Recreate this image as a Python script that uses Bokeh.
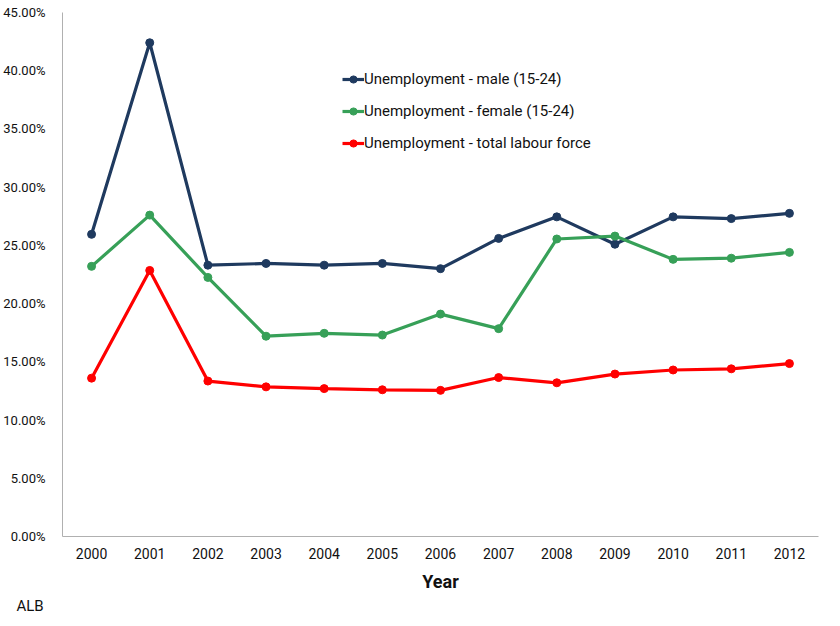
from bokeh.plotting import figure
from bokeh.models import Range1d, FixedTicker, PrintfTickFormatter, Legend, LegendItem, Title
from bokeh.embed import file_html
from bokeh.resources import INLINE

years = [2000, 2001, 2002, 2003, 2004, 2005, 2006, 2007, 2008, 2009, 2010, 2011, 2012]
male = [25.95, 42.4, 23.3, 23.45, 23.3, 23.45, 23.0, 25.6, 27.45, 25.1, 27.45, 27.3, 27.75]
female = [23.2, 27.6, 22.25, 17.2, 17.45, 17.3, 19.1, 17.85, 25.55, 25.8, 23.8, 23.9, 24.4]
total = [13.6, 22.85, 13.35, 12.85, 12.7, 12.6, 12.55, 13.65, 13.2, 13.95, 14.3, 14.4, 14.85]

names = ["Unemployment - male (15-24)", "Unemployment - female (15-24)",
         "Unemployment - total labour force"]
colors = ["#1f3a5f", "#37a058", "#ff0000"]

FONT = "Roboto"

p = figure(width=830, height=620, output_backend="svg", toolbar_location=None,
           x_range=Range1d(1999.5, 2012.5), y_range=Range1d(0, 45),
           min_border_left=62, min_border_right=12, min_border_top=12, min_border_bottom=84)
p.background_fill_color = "white"
p.border_fill_color = "white"
p.outline_line_color = None
p.xgrid.grid_line_color = None
p.ygrid.grid_line_color = None

items = []
for series, name, col in zip([male, female, total], names, colors):
    r1 = p.line(years, series, line_color=col, line_width=3.2)
    r2 = p.scatter(years, series, size=8, fill_color=col, line_color=col)
    items.append(LegendItem(label=name, renderers=[r1, r2]))

legend = Legend(items=items, location=(280, 384), padding=0, margin=0,
                spacing=14, glyph_width=22, glyph_height=18, label_standoff=0,
                label_text_font=FONT, label_text_font_size="15px",
                label_text_color="#111111", border_line_color=None,
                background_fill_alpha=0)
p.add_layout(legend, "center")

p.xaxis.ticker = FixedTicker(ticks=years)
p.yaxis.ticker = FixedTicker(ticks=[0, 5, 10, 15, 20, 25, 30, 35, 40, 45])
p.yaxis.formatter = PrintfTickFormatter(format="%.2f%%")
for ax in (p.xaxis, p.yaxis):
    ax.axis_line_color = "#b0b0b0"
    ax.axis_line_width = 1
    ax.major_tick_line_color = None
    ax.minor_tick_line_color = None
    ax.major_label_text_font = FONT
    ax.major_label_text_font_size = "14px"
    ax.major_label_text_color = "#111111"
p.yaxis.major_label_text_font_size = "13px"
p.yaxis.major_label_standoff = 11
p.xaxis.major_label_standoff = 5
p.xaxis.axis_label = "Year"
p.xaxis.axis_label_text_font = FONT
p.xaxis.axis_label_text_font_size = "18px"
p.xaxis.axis_label_text_font_style = "bold"
p.xaxis.axis_label_text_color = "#111111"
p.xaxis.axis_label_standoff = 9

p.add_layout(Title(text="ALB", align="left", offset=-46, standoff=0, text_font=FONT,
                   text_font_size="15px", text_font_style="normal",
                   text_color="#111111"), "below")

open("out.html", "w").write(file_html(p, INLINE))
